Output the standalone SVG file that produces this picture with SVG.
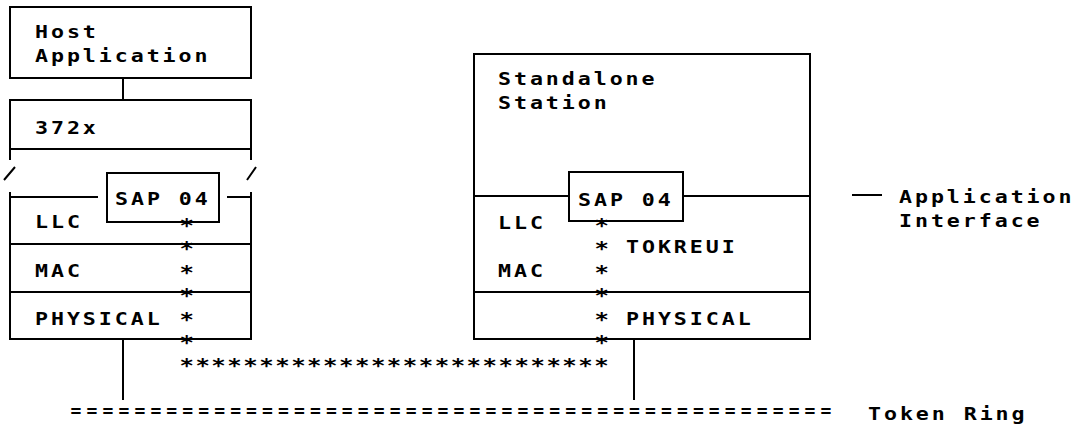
<svg xmlns="http://www.w3.org/2000/svg" width="1076" height="427" viewBox="0 0 1076 427">
<style>
  .box{fill:none;stroke:#000;stroke-width:2}
  .ln{fill:none;stroke:#000;stroke-width:2}
  .t{font-family:"DejaVu Sans Mono","Liberation Mono",monospace;font-size:18px;font-weight:bold;letter-spacing:2.46px;fill:#000}
  .eq{font-family:"DejaVu Sans Mono","Liberation Mono",monospace;font-size:18px;font-weight:bold;letter-spacing:5.12px;fill:#000}
  .a{font-family:"DejaVu Sans Mono","Liberation Mono",monospace;font-size:20px;font-weight:bold;fill:#000}
  .row{letter-spacing:1.26px}
</style>
<rect width="1076" height="427" fill="#fff"/>

<g id="host-application">
  <rect class="box" x="10" y="7" width="241" height="71"/>
  <g transform="scale(1.2,1)">
    <text class="t" x="29.17" y="38">Host</text>
    <text class="t" x="29.17" y="62">Application</text>
  </g>
</g>

<g id="node-372x">
  <rect class="box" x="10" y="100" width="241" height="49"/>
  <text class="t" transform="scale(1.2,1)" x="29.17" y="134">372x</text>
  <path class="ln" d="M10 149V160M251 149V160M4 180L15 167M247 180L256 167"/>
</g>

<g id="host-stack">
  <path class="ln" d="M10 192V339H251V192M10 197H98M227 197H251M10 244H251M10 292H251"/>
  <rect class="box" x="107" y="173" width="112" height="49"/>
  <g transform="scale(1.2,1)">
    <text class="t" x="95.83" y="205">SAP 04</text>
    <text class="t" x="29.17" y="228">LLC</text>
    <text class="t" x="29.17" y="277">MAC</text>
    <text class="t" x="29.17" y="325">PHYSICAL</text>
  </g>
</g>

<g id="standalone-station">
  <rect class="box" x="474" y="54" width="336" height="285"/>
  <path class="ln" d="M474 196H569M683 196H810M474 292H810"/>
  <rect class="box" x="569" y="172" width="114" height="49"/>
  <g transform="scale(1.2,1)">
    <text class="t" x="415" y="85">Standalone</text>
    <text class="t" x="415" y="109">Station</text>
    <text class="t" x="481.67" y="206">SAP 04</text>
    <text class="t" x="415" y="229">LLC</text>
    <text class="t" x="521.67" y="253">TOKREUI</text>
    <text class="t" x="415" y="277">MAC</text>
    <text class="t" x="521.67" y="325">PHYSICAL</text>
  </g>
</g>

<g id="application-interface-label">
  <path class="ln" d="M852 195H882"/>
  <g transform="scale(1.2,1)">
    <text class="t" x="749.17" y="203">Application</text>
    <text class="t" x="749.17" y="227">Interface</text>
  </g>
</g>

<g id="token-ring-label">
  <text class="t" transform="scale(1.2,1)" x="723.33" y="420">Token Ring</text>
</g>

<g id="connectors">
  <path class="ln" d="M123 78V100M123 339V400M634 339V400"/>
  <text class="eq" x="70.6" y="417">================================================</text>
  <text id="data-path" class="a" transform="scale(1.2,1)"><tspan x="149.56" y="232">*</tspan><tspan x="149.56" y="255.4">*</tspan><tspan x="149.56" y="278.8">*</tspan><tspan x="149.56" y="302.2">*</tspan><tspan x="149.56" y="325.6">*</tspan><tspan x="149.56" y="349">*</tspan><tspan class="row" x="149.56" y="372.5">***************************</tspan><tspan x="495.4" y="232">*</tspan><tspan x="495.4" y="255.4">*</tspan><tspan x="495.4" y="278.8">*</tspan><tspan x="495.4" y="302.2">*</tspan><tspan x="495.4" y="325.6">*</tspan><tspan x="495.4" y="349">*</tspan></text>
</g>
</svg>
